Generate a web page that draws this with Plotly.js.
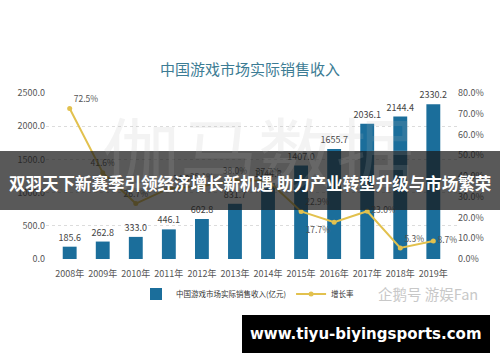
<!DOCTYPE html>
<html>
<head>
<meta charset="utf-8">
<script src="https://cdn.plot.ly/plotly-3.0.1.min.js"></script>
<style>html,body{margin:0;padding:0;background:#fff;}#chart{width:500px;height:362px;}</style>
</head>
<body>
<div id="chart"></div>
<script>
const years = ["2008年","2009年","2010年","2011年","2012年","2013年","2014年","2015年","2016年","2017年","2018年","2019年"];
const revenue = [185.6, 262.8, 333.0, 446.1, 602.8, 831.7, 1144.8, 1407.0, 1655.7, 2036.1, 2144.4, 2330.2];
const growth = [72.5, 41.6, 26.7, 34.0, 35.1, 38.0, 37.7, 22.9, 17.7, 23.0, 5.3, 8.7];
const growthLabelPos = ["top right","top center","top center","top right","top center","top center","top center","top right","bottom left","middle right","top right","middle right"];
const leftTicks = [0, 500, 1000, 1500, 2000, 2500];
const rightTicks = [0, 10, 20, 30, 40, 50, 60, 70, 80];

const FONT = '"Noto Sans CJK SC", "Noto Sans", sans-serif';

const bars = {
  type: 'bar', x: years, y: revenue, name: '中国游戏市场实际销售收入(亿元)',
  marker: {color: '#1b6e9b'}, width: 0.42,
  text: revenue.map(v => v.toFixed(1)), textposition: 'outside', constraintext: 'none',
  textfont: {size: 9, color: '#444', family: FONT}, cliponaxis: false,
  hoverinfo: 'skip'
};
const line = {
  type: 'scatter', mode: 'lines+markers+text', x: years, y: growth, yaxis: 'y2', name: '增长率',
  line: {color: '#e2c14e', width: 2}, marker: {color: '#e2c14e', size: 5},
  text: growth.map(v => v.toFixed(1) + '%'), textposition: growthLabelPos,
  textfont: {size: 8.5, color: '#555', family: FONT}, cliponaxis: false
};

const W = 411, H = 166, L = 46, T = 93;
const px = x => (x - L) / W;
const py = y => (T + H - y) / H;

const layout = {
  width: 500, height: 362,
  margin: {l: 46, r: 43, t: 93, b: 103},
  paper_bgcolor: '#fff', plot_bgcolor: '#fff',
  font: {family: FONT, color: '#555', size: 9},
  title: {text: '中国游戏市场实际销售收入', x: 0.5, xanchor: 'center', y: 1 - 70/362, yanchor: 'middle',
          font: {size: 15, color: '#3c7c94', family: FONT}},
  xaxis: {type: 'category', showgrid: false, showline: false, ticks: '', ticklabelstandoff: 8,
          tickfont: {size: 9, color: '#555'}},
  yaxis: {range: [0, 2500], tickvals: leftTicks, ticktext: leftTicks.map(v => v.toFixed(1)),
          showgrid: true, gridcolor: '#dcdcdc', griddash: 'dot', zeroline: false, showline: false,
          tickfont: {size: 9, color: '#555'}},
  yaxis2: {range: [0, 80], overlaying: 'y', side: 'right', tickvals: rightTicks,
           ticktext: rightTicks.map(v => v.toFixed(1) + '%'), showgrid: false, zeroline: false,
           tickfont: {size: 9, color: '#555'}},
  showlegend: true,
  legend: {orientation: 'h', x: px(248), xanchor: 'center', y: py(294), yanchor: 'middle',
           font: {size: 7.5, color: '#333'}, itemwidth: 30},
  shapes: [
    {type: 'rect', xref: 'paper', yref: 'paper', x0: px(0), x1: px(500), y0: py(151), y1: py(210),
     fillcolor: 'rgba(25,25,25,0.72)', line: {width: 0}, layer: 'above'},
    {type: 'rect', xref: 'paper', yref: 'paper', x0: px(242), x1: px(490), y0: py(315), y1: py(353),
     fillcolor: '#000', line: {width: 0}, layer: 'above'}
  ],
  annotations: [
    {text: '伽马数据', xref: 'paper', yref: 'paper', x: px(258), y: py(150), xanchor: 'center', yanchor: 'middle',
     showarrow: false, font: {size: 78, color: 'rgba(180,180,180,0.16)', family: FONT}},
    {text: '双羽天下新赛季引领经济增长新机遇 助力产业转型升级与市场繁荣', xref: 'paper', yref: 'paper',
     x: px(250), y: py(183), xanchor: 'center', yanchor: 'middle', showarrow: false,
     font: {size: 16.5, color: '#fff', family: FONT, weight: 'bold'}},
    {text: '企鹅号 游娱Fan', xref: 'paper', yref: 'paper', x: px(428), y: py(293), xanchor: 'center', yanchor: 'middle',
     showarrow: false, font: {size: 14.5, color: '#c8c8c8', family: FONT}},
    {text: 'www.tiyu-biyingsports.com', xref: 'paper', yref: 'paper', x: px(366), y: py(334), xanchor: 'center',
     yanchor: 'middle', showarrow: false,
     font: {size: 15, color: '#fff', family: '"DejaVu Sans", sans-serif', weight: 'bold'}}
  ]
};

Plotly.newPlot('chart', [bars, line], layout, {displayModeBar: false, staticPlot: true});
</script>
</body>
</html>
